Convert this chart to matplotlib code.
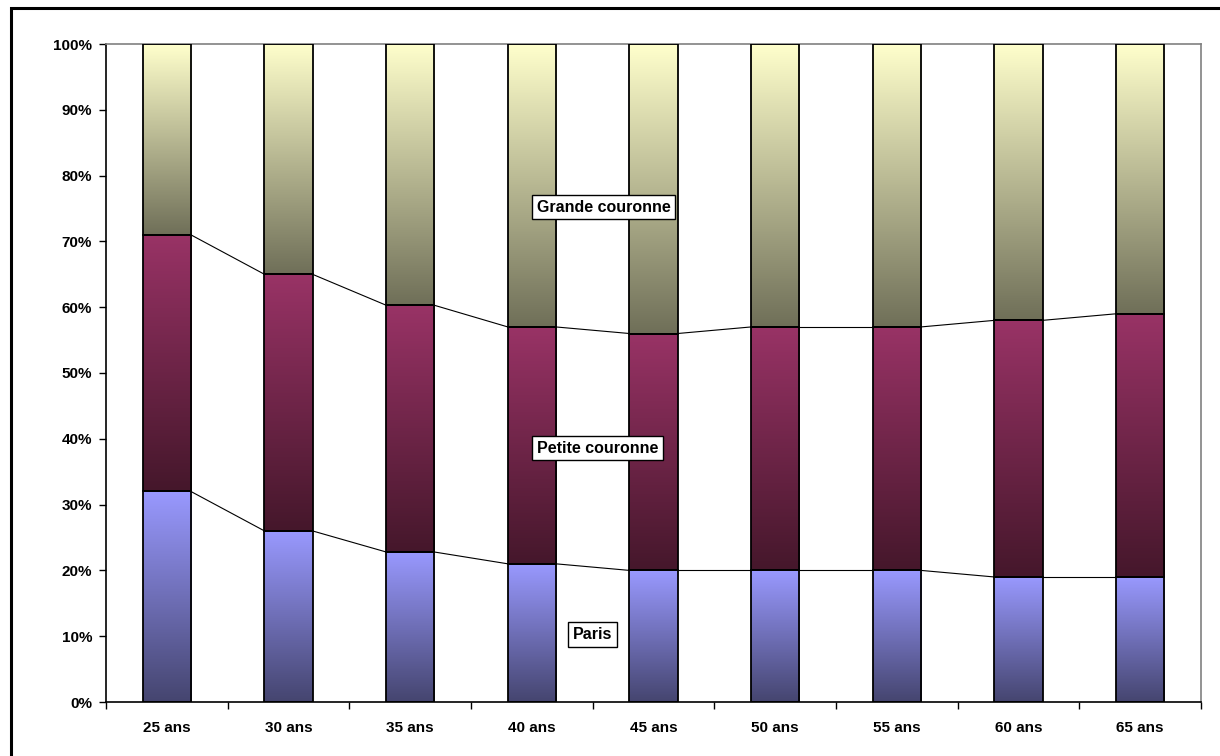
import numpy as np
import matplotlib
matplotlib.use('Agg')
import matplotlib.pyplot as plt
from matplotlib.colors import LinearSegmentedColormap
from matplotlib.patches import Rectangle

plt.rcParams['font.family'] = ['Liberation Sans', 'DejaVu Sans']
plt.rcParams['font.weight'] = 'bold'

ages = ['25 ans', '30 ans', '35 ans', '40 ans', '45 ans', '50 ans', '55 ans', '60 ans', '65 ans']
paris = [32, 26, 22.8, 21, 20, 20, 20, 19, 19]
petite = [39, 39, 37.5, 36, 36, 37, 37, 39, 40]
grande = [29, 35, 39.7, 43, 44, 43, 43, 42, 41]

series = [('Paris', paris, '#9999ff', '#45456f'),
          ('Petite couronne', petite, '#993366', '#45172b'),
          ('Grande couronne', grande, '#ffffcc', '#6f6f58')]

fig = plt.figure(figsize=(12.2, 7.56), dpi=100)
ax = fig.add_axes([106 / 1220, 54 / 756, 1095 / 1220, 658 / 756])

x = np.arange(len(ages))
width = 0.395
grad = np.linspace(1, 0, 256).reshape(-1, 1)

bottom = np.zeros(len(ages))
levels = []
for name, vals, top_c, bot_c in series:
    vals = np.array(vals, dtype=float)
    cmap = LinearSegmentedColormap.from_list(name, [bot_c, top_c])
    for i in range(len(ages)):
        ax.imshow(grad, extent=[x[i] - width / 2, x[i] + width / 2, bottom[i], bottom[i] + vals[i]],
                  cmap=cmap, aspect='auto', interpolation='bilinear', vmin=0, vmax=1, zorder=2)
    ax.bar(x, vals, width, bottom=bottom, fill=False, edgecolor='black', linewidth=1.3, zorder=3)
    bottom = bottom + vals
    levels.append(bottom.copy())

# series lines between bars
for lev in levels[:2]:
    for i in range(len(ages) - 1):
        ax.plot([x[i] + width / 2, x[i + 1] - width / 2], [lev[i], lev[i + 1]],
                color='black', linewidth=0.8, zorder=3)

ax.set_xlim(-0.5, len(ages) - 0.5)
ax.set_ylim(0, 100)
ax.set_yticks(np.arange(0, 101, 10))
ax.set_yticklabels([f'{v}%' for v in range(0, 101, 10)], fontsize=11, fontweight='bold')
ax.set_xticks(x)
ax.set_xticklabels(ages, fontsize=11, fontweight='bold')
ax.set_xticks(np.arange(-0.5, len(ages), 1), minor=True)
ax.tick_params(axis='x', which='major', length=0, pad=14)
ax.tick_params(axis='x', which='minor', length=5, width=1, direction='out')
ax.tick_params(axis='y', length=5, width=1, direction='out', pad=5)

for side in ['top', 'right']:
    ax.spines[side].set_color('#808080')
    ax.spines[side].set_linewidth(1.2)
for side in ['left', 'bottom']:
    ax.spines[side].set_color('black')
    ax.spines[side].set_linewidth(1.2)

box = dict(boxstyle='square,pad=0.3', facecolor='white', edgecolor='black', linewidth=1)
ax.text(3.59, 75.2, 'Grande couronne', ha='center', va='center', fontsize=11.5, fontweight='bold', bbox=box, zorder=5)
ax.text(3.54, 38.6, 'Petite couronne', ha='center', va='center', fontsize=11.5, fontweight='bold', bbox=box, zorder=5)
ax.text(3.5, 10.3, 'Paris', ha='center', va='center', fontsize=11.5, fontweight='bold', bbox=box, zorder=5)

# outer frame (only top and left edges visible)
fig.patches.append(Rectangle((11 / 1220, -0.1), 1.2, 1.1 - 8 / 756, transform=fig.transFigure,
                             fill=False, edgecolor='black', linewidth=2.2))

fig.savefig('out.png', dpi=100)
